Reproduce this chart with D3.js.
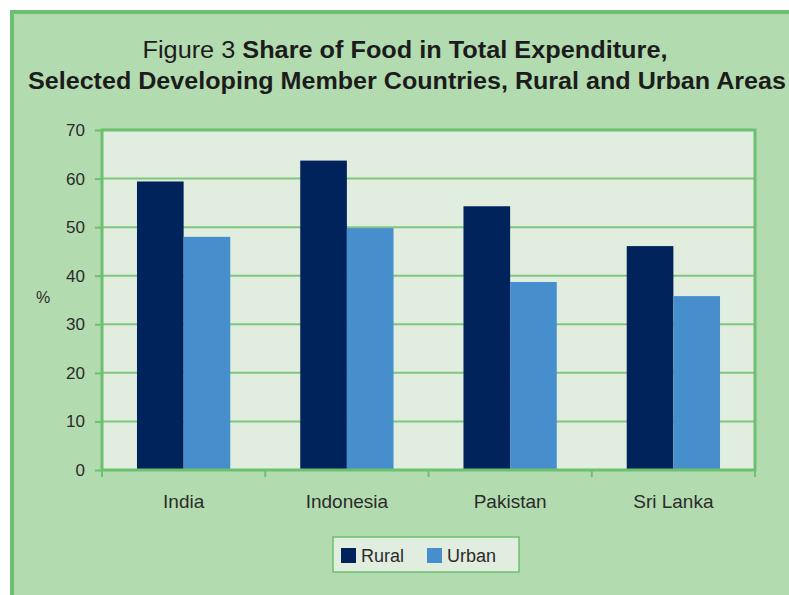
<!DOCTYPE html>
<html>
<head>
<meta charset="utf-8">
<script src="https://cdn.jsdelivr.net/npm/d3@7"></script>
<style>
  html, body { margin: 0; padding: 0; background: #fff; }
  svg { display: block; }
  text { font-family: "Liberation Sans", Arial, sans-serif; fill: #2b2b2b; }
  .title { font-family: "Liberation Sans Narrow", "Liberation Sans", Arial, sans-serif; fill: #1c1c1c; }
</style>
</head>
<body>
<div id="chart"></div>
<script>
(function() {
  "use strict";

  var countries = ["India", "Indonesia", "Pakistan", "Sri Lanka"];
  var seriesNames = ["Rural", "Urban"];
  var rural = [59.4, 63.7, 54.3, 46.1];
  var urban = [48.0, 49.8, 38.7, 35.8];
  var yTicks = [0, 10, 20, 30, 40, 50, 60, 70];
  var colors = ["#00235b", "#478ecd"];

  var width = 789, height = 595;
  var plot = { left: 102, top: 130, right: 755, bottom: 470 };
  var green = "#6cc070";

  var svg = d3.select("#chart").append("svg")
    .attr("width", width)
    .attr("height", height);

  // outer frame, runs off the right and bottom edges
  svg.append("rect")
    .attr("x", 12).attr("y", 12)
    .attr("width", 820).attr("height", 620)
    .attr("fill", "#b3dbb0")
    .attr("stroke", green)
    .attr("stroke-width", 4);

  /* ------- TITLE ------- */
  var t1 = svg.append("text")
    .attr("class", "title")
    .attr("x", 405).attr("y", 58)
    .attr("text-anchor", "middle")
    .attr("font-size", 23)
    .attr("textLength", 525)
    .attr("lengthAdjust", "spacingAndGlyphs");
  t1.append("tspan").text("Figure 3 ");
  t1.append("tspan").attr("font-weight", "bold")
    .text("Share of Food in Total Expenditure,");

  svg.append("text")
    .attr("class", "title")
    .attr("x", 407).attr("y", 89)
    .attr("text-anchor", "middle")
    .attr("font-size", 23)
    .attr("font-weight", "bold")
    .attr("textLength", 758)
    .attr("lengthAdjust", "spacingAndGlyphs")
    .text("Selected Developing Member Countries, Rural and Urban Areas");

  /* ------- SCALES ------- */
  var x0 = d3.scaleBand()
    .domain(countries)
    .range([plot.left, plot.right])
    .paddingInner(0)
    .paddingOuter(0);

  var barW = x0.bandwidth() / 3.5;
  var x1 = d3.scaleBand()
    .domain(seriesNames)
    .range([x0.bandwidth() / 2 - barW, x0.bandwidth() / 2 + barW]);

  var y = d3.scaleLinear()
    .domain([0, 70])
    .range([plot.bottom, plot.top]);

  // plot background
  svg.append("rect")
    .attr("x", plot.left).attr("y", plot.top)
    .attr("width", plot.right - plot.left)
    .attr("height", plot.bottom - plot.top)
    .attr("fill", "#e0eddf");

  // gridlines
  svg.append("g")
    .selectAll("line")
    .data(yTicks.slice(1, -1))
    .enter()
    .append("line")
    .attr("x1", plot.left).attr("x2", plot.right)
    .attr("y1", function(d) { return y(d); })
    .attr("y2", function(d) { return y(d); })
    .attr("stroke", "#7fc77f")
    .attr("stroke-width", 2);

  /* ------- BARS ------- */
  var rows = countries.map(function(c, i) {
    return { country: c, values: [rural[i], urban[i]] };
  });

  var groups = svg.append("g")
    .selectAll("g")
    .data(rows)
    .enter()
    .append("g")
    .attr("transform", function(d) { return "translate(" + x0(d.country) + ",0)"; });

  groups.selectAll("rect")
    .data(function(d) {
      return d.values.map(function(v, j) { return { name: seriesNames[j], value: v, j: j }; });
    })
    .enter()
    .append("rect")
    .attr("x", function(d) { return x1(d.name); })
    .attr("width", x1.bandwidth())
    .attr("y", function(d) { return y(d.value); })
    .attr("height", function(d) { return y(0) - y(d.value); })
    .attr("fill", function(d) { return colors[d.j]; });

  // plot border
  svg.append("rect")
    .attr("x", plot.left).attr("y", plot.top)
    .attr("width", plot.right - plot.left)
    .attr("height", plot.bottom - plot.top)
    .attr("fill", "none")
    .attr("stroke", green)
    .attr("stroke-width", 3);

  /* ------- AXES ------- */
  var yAxis = svg.append("g")
    .attr("transform", "translate(" + plot.left + ",0)")
    .call(d3.axisLeft(y).tickValues(yTicks).tickSize(7).tickPadding(10));
  yAxis.select(".domain").remove();
  yAxis.selectAll("line").attr("stroke", green).attr("stroke-width", 2);
  yAxis.selectAll("text")
    .attr("font-size", 17)
    .attr("fill", "#2b2b2b");

  var xAxis = svg.append("g")
    .attr("transform", "translate(0," + plot.bottom + ")")
    .call(d3.axisBottom(x0).tickSize(0).tickPadding(25));
  xAxis.select(".domain").remove();
  xAxis.selectAll("text")
    .attr("font-size", 19)
    .attr("fill", "#2b2b2b");

  // category boundary ticks
  var bounds = countries.map(function(c) { return x0(c); }).concat([plot.right]);
  svg.append("g")
    .selectAll("line")
    .data(bounds)
    .enter()
    .append("line")
    .attr("x1", function(d) { return d; })
    .attr("x2", function(d) { return d; })
    .attr("y1", plot.bottom)
    .attr("y2", plot.bottom + 7)
    .attr("stroke", green)
    .attr("stroke-width", 2);

  svg.append("text")
    .attr("x", 43).attr("y", 303)
    .attr("text-anchor", "middle")
    .attr("font-size", 16)
    .text("%");

  /* ------- LEGEND ------- */
  var legend = svg.append("g");
  legend.append("rect")
    .attr("x", 333).attr("y", 537)
    .attr("width", 186).attr("height", 35)
    .attr("fill", "#e0eddf")
    .attr("stroke", green)
    .attr("stroke-width", 1.5);

  var legendX = [341, 427];
  var items = legend.selectAll("g.item")
    .data(seriesNames)
    .enter()
    .append("g")
    .attr("class", "item")
    .attr("transform", function(d, i) { return "translate(" + legendX[i] + ",548)"; });

  items.append("rect")
    .attr("width", 15).attr("height", 15)
    .attr("fill", function(d, i) { return colors[i]; });

  items.append("text")
    .attr("x", 20).attr("y", 14)
    .attr("font-size", 18)
    .text(function(d) { return d; });
})();
</script>
</body>
</html>
